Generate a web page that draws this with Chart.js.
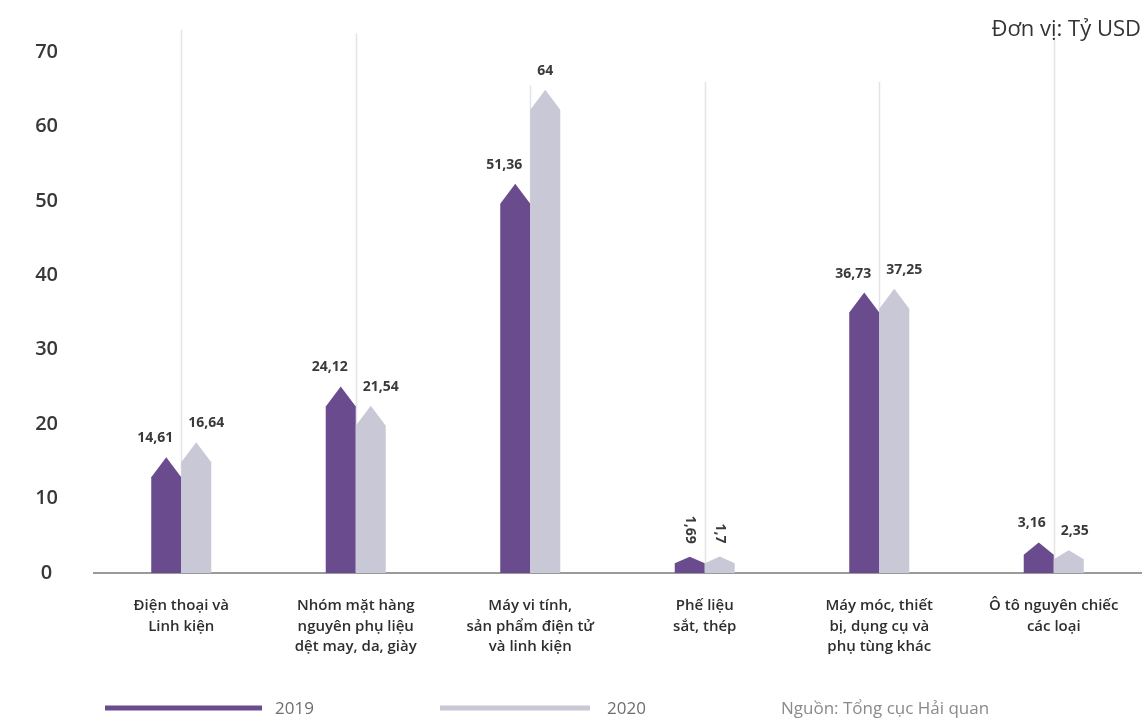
<!DOCTYPE html>
<html>
<head>
<meta charset="utf-8">
<script src="https://cdn.jsdelivr.net/npm/chart.js@4.4.1/dist/chart.umd.min.js"></script>
<style>
html, body { margin: 0; padding: 0; background: #fff; }
#wrap { position: relative; width: 1144px; height: 721px; }
</style>
</head>
<body>
<div id="wrap"><canvas id="chart" width="1144" height="721"></canvas></div>
<script>
// data
var categories = [
	['Điện thoại và', 'Linh kiện'],
	['Nhóm mặt hàng', 'nguyên phụ liệu', 'dệt may, da, giày'],
	['Máy vi tính,', 'sản phẩm điện tử', 'và linh kiện'],
	['Phế liệu', 'sắt, thép'],
	['Máy móc, thiết', 'bị, dụng cụ và', 'phụ tùng khác'],
	['Ô tô nguyên chiếc', 'các loại']
];
var values2019 = [14.61, 24.12, 51.36, 1.69, 36.73, 3.16];
var values2020 = [16.64, 21.54, 64, 1.7, 37.25, 2.35];
var seriesNames = ['2019', '2020'];
// how far the thin guide line above each group goes (in axis units)
var guideTops = [73, 72.5, 65.5, 66, 66, 72];

var PURPLE = '#6a4b8d';
var GREY = '#c9c8d6';
var FONT = '"Open Sans", "Noto Sans", sans-serif';

function fmt(v) {
	return String(v).replace('.', ',');
}

function drawArrowBar(ctx, x, y, base, w, color) {
	var h = base - y;
	var lift = Math.min(7, h * 0.3);
	var tip = y - lift;
	var tri = Math.min(20, (base - tip) * 0.4);
	var half = w / 2;
	ctx.fillStyle = color;
	ctx.beginPath();
	ctx.moveTo(x - half, base);
	ctx.lineTo(x - half, tip + tri);
	ctx.lineTo(x, tip);
	ctx.lineTo(x + half, tip + tri);
	ctx.lineTo(x + half, base);
	ctx.closePath();
	ctx.fill();
	return tip;
}

var arrowBars = {
	id: 'arrowBars',
	beforeDatasetsDraw: function(chart) {
		var ctx = chart.ctx;
		var xs = chart.scales.x;
		var ys = chart.scales.y;
		ctx.save();

		// guide lines behind the bars
		ctx.strokeStyle = '#e4e4e4';
		ctx.lineWidth = 1.5;
		for (var i = 0; i < categories.length; i++) {
			var gx = Math.round(xs.getPixelForValue(i)) + 0.5;
			ctx.beginPath();
			ctx.moveTo(gx, ys.getPixelForValue(0));
			ctx.lineTo(gx, ys.getPixelForValue(guideTops[i]));
			ctx.stroke();
		}

		chart.data.datasets.forEach(function(ds, di) {
			var meta = chart.getDatasetMeta(di);
			meta.data.forEach(function(bar, i) {
				var tip = drawArrowBar(ctx, bar.x, bar.y, bar.base, bar.width, ds.backgroundColor);
				var lineX = xs.getPixelForValue(i);
				var val = ds.data[i];
				ctx.fillStyle = '#3a3a3a';
				ctx.font = '700 14px ' + FONT;
				if (val < 2) {
					// tiny bars get their labels turned on their side
					ctx.save();
					ctx.translate(bar.x, tip - 13);
					ctx.rotate(Math.PI / 2);
					ctx.textAlign = 'right';
					ctx.textBaseline = 'middle';
					ctx.fillText(fmt(val), 0, 0);
					ctx.restore();
				} else {
					ctx.textBaseline = 'middle';
					if (di === 0) {
						ctx.textAlign = 'right';
						ctx.fillText(fmt(val), lineX - 8, tip - 19);
					} else {
						ctx.textAlign = 'left';
						ctx.fillText(fmt(val), lineX + 7, tip - 19);
					}
				}
			});
		});

		ctx.restore();
		return false;
	},
	afterDraw: function(chart) {
		var ctx = chart.ctx;
		ctx.save();

		// unit note, top right
		ctx.fillStyle = '#333';
		ctx.font = '22px ' + FONT;
		ctx.textAlign = 'right';
		ctx.textBaseline = 'middle';
		ctx.fillText('Đơn vị: Tỷ USD', 1141, 30);

		// legend
		ctx.lineCap = 'butt';
		ctx.lineWidth = 5;
		ctx.strokeStyle = PURPLE;
		ctx.beginPath();
		ctx.moveTo(105, 708);
		ctx.lineTo(262, 708);
		ctx.stroke();
		ctx.strokeStyle = GREY;
		ctx.beginPath();
		ctx.moveTo(440, 708);
		ctx.lineTo(590, 708);
		ctx.stroke();

		ctx.font = '500 17px ' + FONT;
		ctx.textAlign = 'left';
		ctx.fillStyle = '#6e6e6e';
		ctx.fillText(seriesNames[0], 275, 709);
		ctx.fillText(seriesNames[1], 607, 709);

		ctx.fillStyle = '#8a8a8a';
		ctx.fillText('Nguồn: Tổng cục Hải quan', 781, 709);

		ctx.restore();
	}
};

var ctx = document.getElementById('chart');
var chart = new Chart(ctx, {
	type: 'bar',
	data: {
		labels: categories,
		datasets: [{
			label: seriesNames[0],
			data: values2019,
			backgroundColor: PURPLE,
			categoryPercentage: 0.344,
			barPercentage: 1.0
		}, {
			label: seriesNames[1],
			data: values2020,
			backgroundColor: GREY,
			categoryPercentage: 0.344,
			barPercentage: 1.0
		}]
	},
	options: {
		responsive: false,
		animation: false,
		layout: {
			padding: { top: 52, right: 3, left: 0, bottom: 0 }
		},
		plugins: {
			legend: { display: false },
			tooltip: { enabled: false },
			title: { display: false }
		},
		scales: {
			x: {
				grid: { display: false, drawTicks: false },
				border: { display: true, color: '#9a9a9a', width: 2 },
				ticks: {
					color: '#2e2e2e',
					font: { family: FONT, size: 15, weight: '600', lineHeight: 1.35 },
					padding: 23,
					maxRotation: 0,
					autoSkip: false
				},
				afterFit: function(scale) {
					scale.height = 148;
				}
			},
			y: {
				min: 0,
				max: 70,
				grid: { display: false, drawTicks: false },
				border: { display: false },
				ticks: {
					stepSize: 10,
					color: '#383838',
					crossAlign: 'center',
					padding: 36,
					font: { family: FONT, size: 20, weight: '600' }
				},
				afterFit: function(scale) {
					scale.width = 94;
				}
			}
		}
	},
	plugins: [arrowBars]
});
</script>
</body>
</html>
